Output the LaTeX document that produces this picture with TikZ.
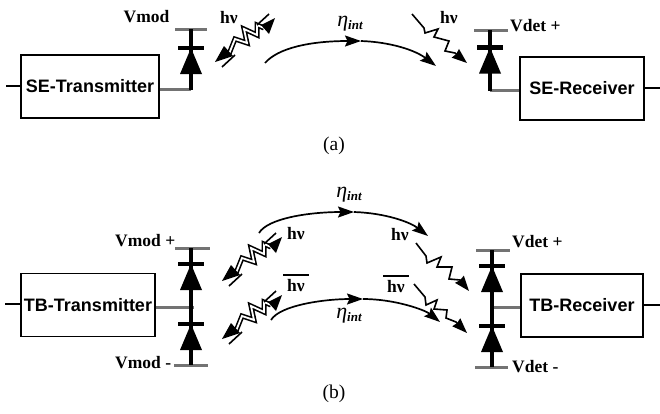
\documentclass[tikz,border=0pt]{standalone}
\usepackage{fontspec}
\setmainfont{Liberation Serif}
\newfontfamily\boxfont{Liberation Sans}
\usetikzlibrary{arrows.meta}
\tikzset{
  unit/.style={draw=black,line width=1.8pt,minimum height=63pt,inner sep=0pt,font=\boxfont\bfseries\fontsize{18}{18}\selectfont},
  lead/.style={line width=1.4pt},
  graywire/.style={draw=black!55,line width=3pt},
  stem/.style={line width=4pt},
  lab/.style={font=\bfseries\fontsize{17.5}{18}\selectfont,inner sep=0pt},
  eta/.style={font=\fontsize{22}{22}\selectfont\itshape,inner sep=0pt},
  caplabel/.style={font=\fontsize{19.5}{20}\selectfont,inner sep=0pt},
  beam/.style={line width=1.7pt,-{Stealth[length=16pt,width=11pt,inset=2.5pt]}},
  ray/.style={line width=1.6pt,-{Stealth[length=15pt,width=11pt,inset=1pt]}}
}
\newcommand{\etalabel}{η\raisebox{-3pt}{\bfseries\fontsize{13}{13}\selectfont int}}
\newcommand{\hvbar}{\makebox[26pt]{\rule[16pt]{26pt}{1.2pt}\hspace{-26pt}\makebox[26pt]{hν}}}
% diode: x, y of bar
\newcommand{\diodesym}[2]{%
  \draw[line width=4.5pt] (#1-13,#2) -- (#1+13,#2);
  \fill (#1,#2) -- (#1+11,#2+26) -- (#1-11,#2+26) -- cycle;
}
% emitter: shift x, y
\newcommand{\emitter}[2]{%
  \begin{scope}[shift={(#1,#2)}]
    \draw[line width=5pt,line join=miter] (229,54) -- (235,39) -- (247,43) -- (244,29) -- (257,35) -- (257,25) -- (264,28);
    \draw[white,line width=1.8pt,line join=miter] (229,54) -- (235,39) -- (247,43) -- (244,29) -- (257,35) -- (257,25) -- (264,28);
    \fill (215,62) -- (224,46) -- (233,56) -- cycle;
    \fill (275,18) -- (261,25) -- (269,34) -- cycle;
    \draw[line width=1.6pt] (222,67) -- (235,55);
    \draw[line width=1.6pt] (269,14) -- (257,25);
  \end{scope}
}
\begin{document}
\begin{tikzpicture}[x=1pt,y=-1pt]
\useasboundingbox (0,0) rectangle (660,413);
% ---------- (a) ----------
\node[unit,minimum width=138pt] (setx) at (90,86.5) {SE-Transmitter};
\node[unit,minimum width=124pt] (serx) at (582,88.5) {SE-Receiver};
\coordinate (setxin) at (6,86);
\coordinate (serxout) at (660,88);
\draw[lead] (setxin) -- (setxin -| setx.west);
\draw[lead] (serx.east |- serxout) -- (serxout);
% transmitter diode
\coordinate (d1top) at (191,29);
\coordinate (d1bot) at (191,89.5);
\draw[graywire] (175,29) -- (207,29);
\draw[graywire] (setx.east |- d1bot) -- (d1bot);
\draw[stem] (d1top) -- (d1bot);
\diodesym{191}{48}
% receiver diode
\coordinate (d2top) at (490,30);
\coordinate (d2bot) at (490,90.5);
\draw[graywire] (474,30) -- (508,30);
\draw[graywire] (d2bot) -- (serx.west |- d2bot);
\draw[stem] (d2top) -- (d2bot);
\diodesym{490}{47.5}
\node[lab] (vmod) at (146.5,17) {Vmod};
\node[lab] (hv1) at (229,18) {hν};
\node[lab] (hv2) at (449,18) {hν};
\node[lab,anchor=west] (vdetp) at (510,26) {Vdet +};
\node[eta] (eta1) at (350,24) {\etalabel};
\node[caplabel] (capa) at (334,146) {(a)};
\emitter{0}{0}
\coordinate (a1) at (265,63);
\coordinate (a2) at (361,41);
\coordinate (a3) at (436,66);
\draw[beam] (a1) .. controls (278,48) and (310,41) .. (a2);
\draw[beam] (a2) .. controls (390,42) and (415,50) .. (a3);
\coordinate (r0) at (412,14);
\coordinate (r1) at (467,63);
\draw[ray] (r0) -- (424,28) -- (425,33) -- (438,29) -- (434,37) -- (449,41) -- (445,51) -- (455,53) -- (r1);
% ---------- (b) ----------
\node[unit,minimum width=134pt] (tbtx) at (88,305) {TB-Transmitter};
\node[unit,minimum width=122pt] (tbrx) at (582,305.5) {TB-Receiver};
\coordinate (tbtxin) at (5,304);
\coordinate (tbrxout) at (660,305);
\draw[lead] (tbtxin) -- (tbtxin -| tbtx.west);
\draw[lead] (tbrx.east |- tbrxout) -- (tbrxout);
% transmitter diodes
\coordinate (d3top) at (191,248);
\coordinate (d3mid) at (194,307);
\coordinate (d3bot) at (191,365);
\draw[graywire] (175,248) -- (210,248);
\draw[graywire] (174,365) -- (208,365);
\draw[graywire] (tbtx.east |- d3mid) -- (d3mid);
\draw[stem] (d3top) -- (d3bot);
\diodesym{191}{264}
\diodesym{191}{324}
% receiver diodes
\coordinate (d4top) at (492,250);
\coordinate (d4mid) at (492,307);
\coordinate (d4bot) at (492,367);
\draw[graywire] (476,250) -- (510,250);
\draw[graywire] (475,367) -- (508,367);
\draw[graywire] (d4mid) -- (tbrx.west |- d4mid);
\draw[stem] (d4top) -- (d4bot);
\diodesym{492}{266}
\diodesym{492}{326}
\node[lab,anchor=west] (vmodp) at (115,241) {Vmod +};
\node[lab,anchor=west] (vmodm) at (115,363) {Vmod -};
\node[lab,anchor=west] (vdetp2) at (512,242) {Vdet +};
\node[lab,anchor=west] (vdetm) at (512,367) {Vdet -};
\node[lab] (hv3) at (296,234) {hν};
\node[lab] (hv4) at (296,283) {\hvbar};
\node[lab] (hv5) at (400,235) {hν};
\node[lab] (hv6) at (396,284) {\hvbar};
\node[eta] (eta2) at (349,195) {\etalabel};
\node[eta] (eta3) at (349,316) {\etalabel};
\node[caplabel] (capb) at (334,394) {(b)};
\emitter{7}{219}
\emitter{7}{277}
\coordinate (b1) at (259,233);
\coordinate (b2) at (354,212);
\coordinate (b3) at (428,236);
\draw[beam] (b1) .. controls (268,218) and (310,212) .. (b2);
\draw[beam] (b2) .. controls (385,213) and (410,222) .. (b3);
\coordinate (c1) at (271,320);
\coordinate (c2) at (363,299);
\coordinate (c3) at (440,322);
\draw[beam] (c1) .. controls (280,305) and (325,299) .. (c2);
\draw[beam] (c2) .. controls (395,299) and (425,310) .. (c3);
\coordinate (s0) at (416,243);
\coordinate (s1) at (469,291);
\draw[ray] (s0) -- (426,256) -- (427,263) -- (441,257) -- (437,267) -- (452,267) -- (449,279) -- (460,280) -- (s1);
\coordinate (t0) at (414,284);
\coordinate (t1) at (467,333);
\draw[ray] (t0) -- (425,297) -- (426,305) -- (437,300) -- (434,309) -- (447,310) -- (446,318) -- (456,322) -- (t1);
\end{tikzpicture}
\end{document}
